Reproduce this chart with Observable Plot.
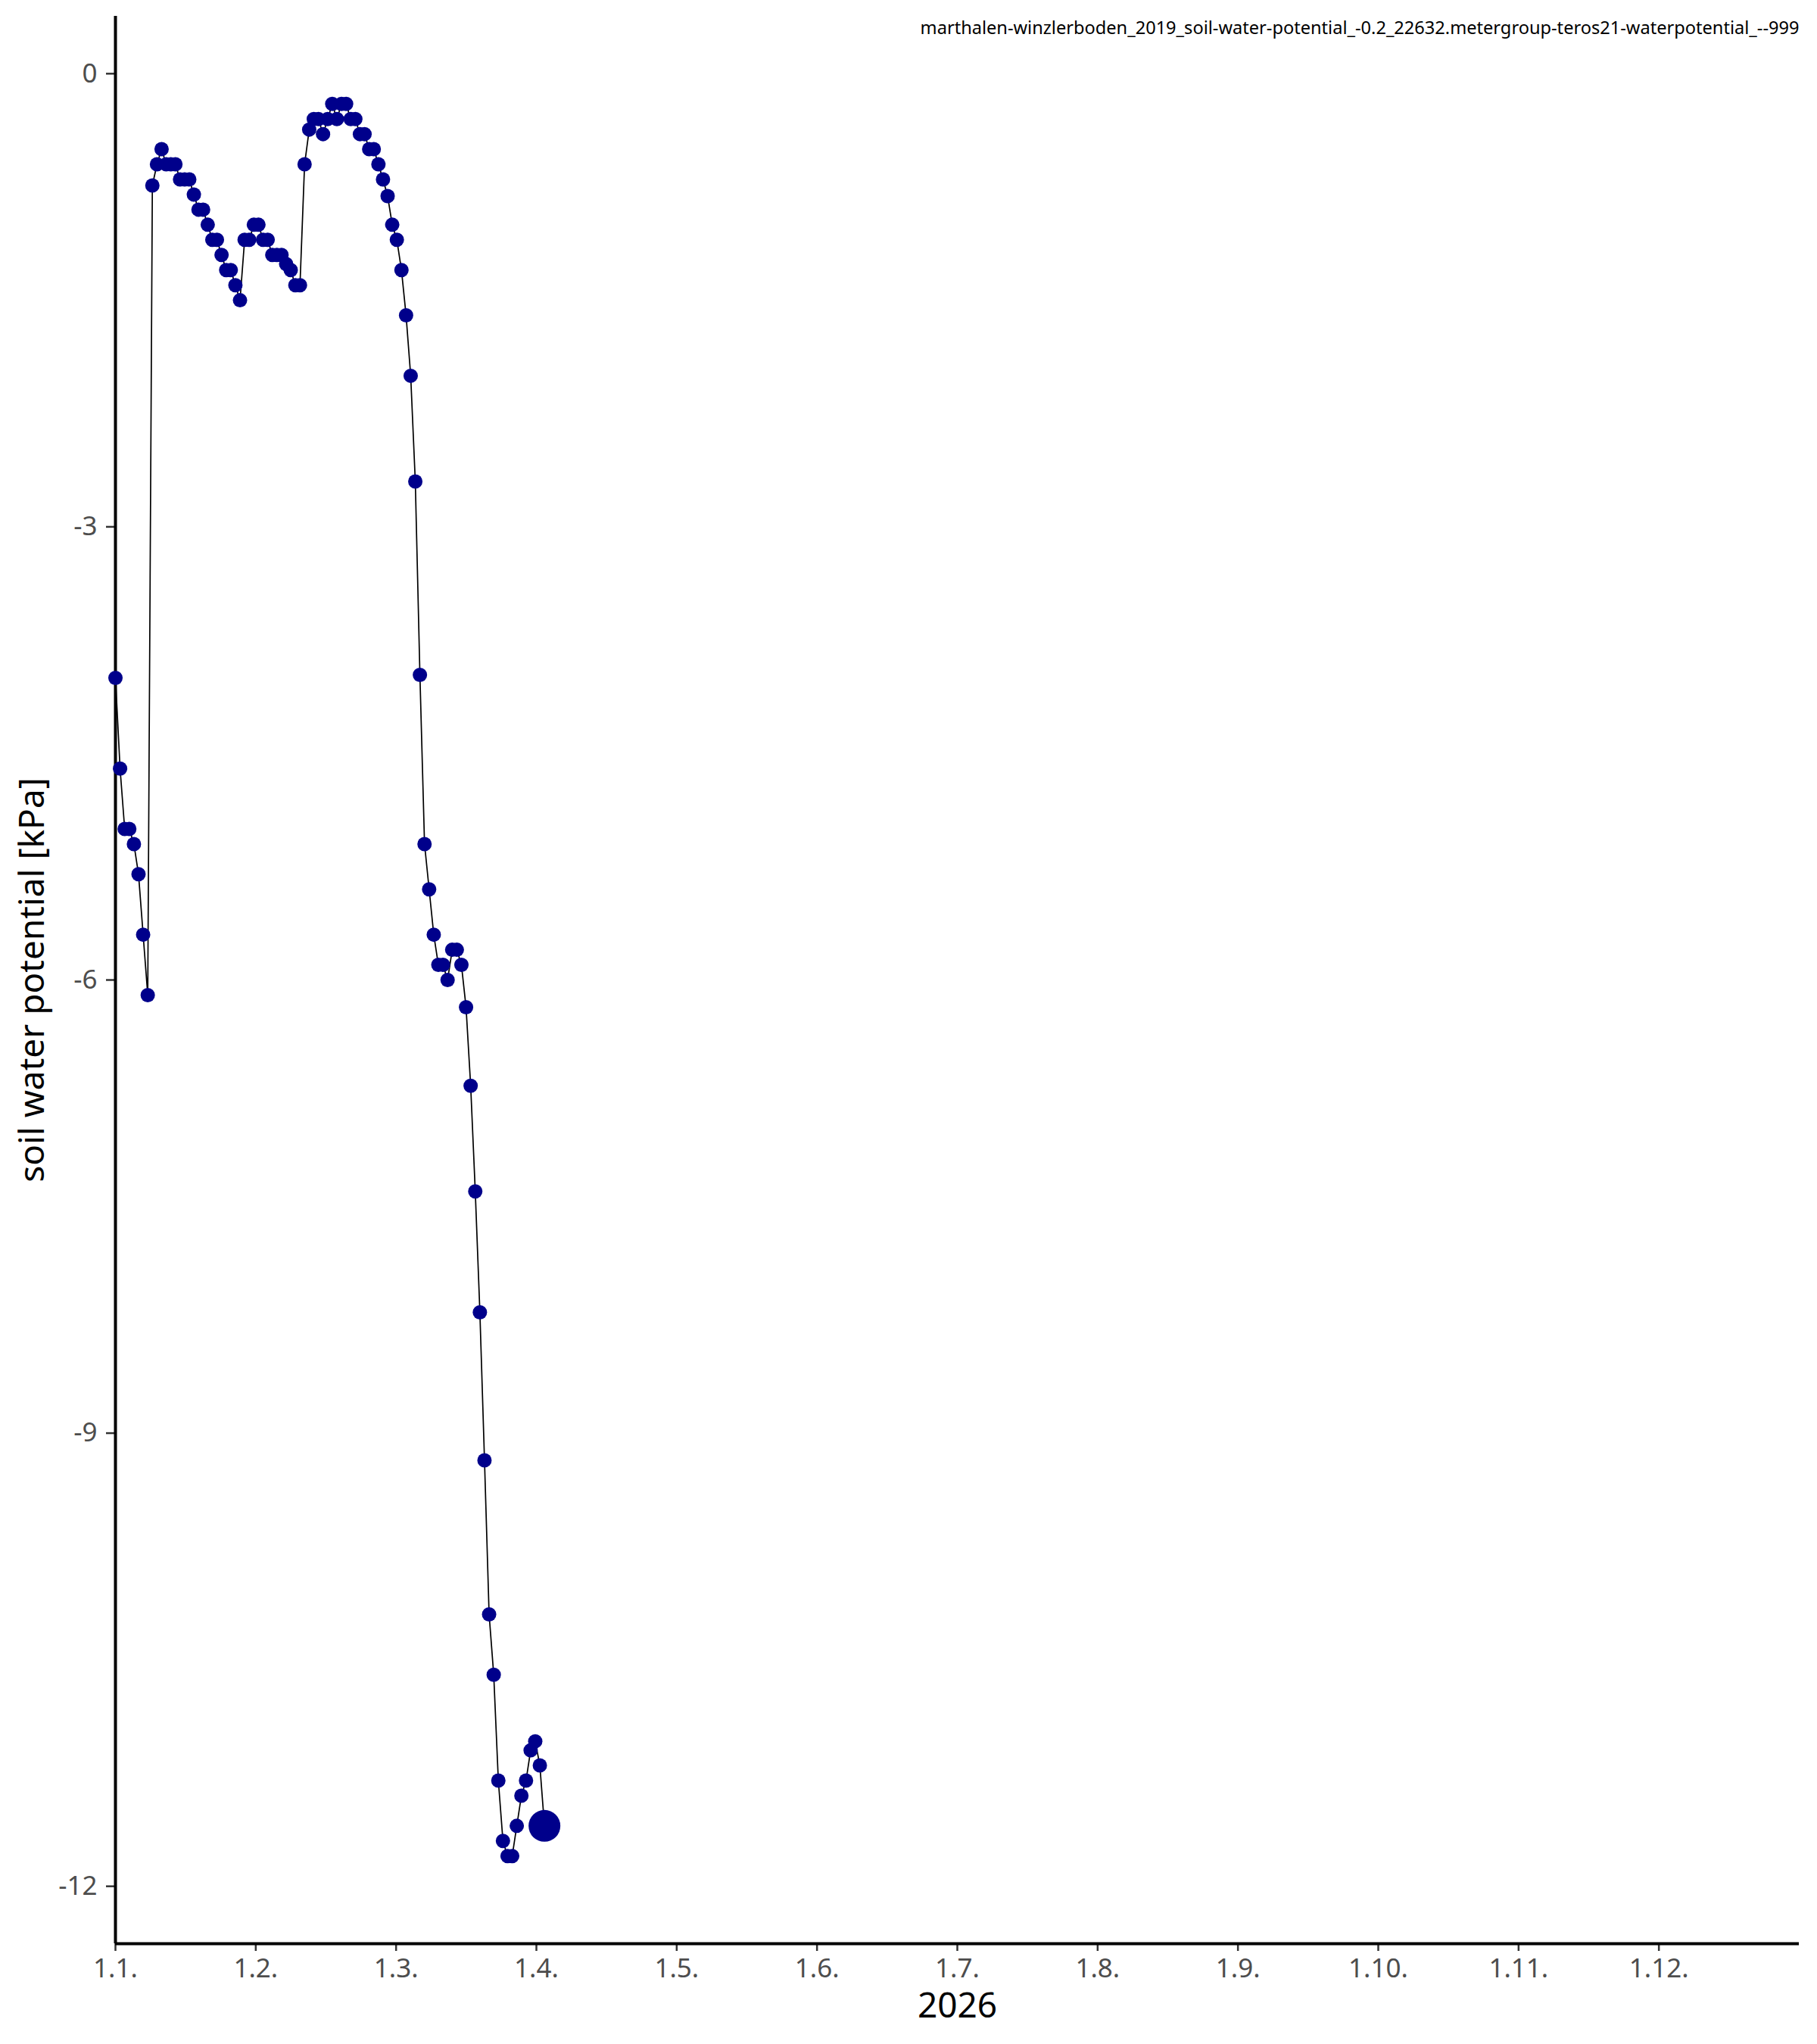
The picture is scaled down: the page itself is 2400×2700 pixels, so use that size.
<!DOCTYPE html>
<html>
<head>
<meta charset="utf-8">
<script src="https://cdn.jsdelivr.net/npm/d3@7"></script>
<script src="https://cdn.jsdelivr.net/npm/@observablehq/plot@0.6"></script>
<style>
  html, body { margin: 0; padding: 0; background: white; }
</style>
</head>
<body>
<div id="chart"></div>
<script>
// Daily soil water potential readings [kPa], starting 1 Jan 2026
const values = [
  -4.0, -4.6, -5.0, -5.0, -5.1, -5.3, -5.7, -6.1,
  -0.74, -0.6, -0.5, -0.6, -0.6, -0.6, -0.7, -0.7, -0.7, -0.8, -0.9, -0.9,
  -1.0, -1.1, -1.1, -1.2, -1.3, -1.3, -1.4, -1.5,
  -1.1, -1.1, -1.0, -1.0, -1.1, -1.1, -1.2, -1.2, -1.2, -1.26, -1.3, -1.4, -1.4,
  -0.6, -0.37, -0.3, -0.3, -0.4, -0.3, -0.2, -0.3, -0.2, -0.2, -0.3, -0.3,
  -0.4, -0.4, -0.5, -0.5, -0.6, -0.7, -0.81, -1.0, -1.1, -1.3, -1.6,
  -2.0, -2.7, -3.98, -5.1, -5.4, -5.7, -5.9, -5.9, -6.0, -5.8, -5.8, -5.9,
  -6.18, -6.7, -7.4, -8.2, -9.18, -10.2, -10.6, -11.3, -11.7, -11.8, -11.8,
  -11.6, -11.4, -11.3, -11.1, -11.04, -11.2, -11.6
];
const dayOfYear = values.map((_, i) => i);

const xTickLabels = ["1.1.", "1.2.", "1.3.", "1.4.", "1.5.", "1.6.", "1.7.", "1.8.", "1.9.", "1.10.", "1.11.", "1.12."];
const yTicks = [0, -3, -6, -9, -12];
const yDomain = [-12.38, 0.38];
const xDomain = [0, 365];
const titleText = "marthalen-winzlerboden_2019_soil-water-potential_-0.2_22632.metergroup-teros21-waterpotential_--999";
const yLabel = "soil water potential [kPa]";
const xLabel = "2026";

const data = values.map((v, i) => ({day: dayOfYear[i], value: v}));
const lastPoint = [data[data.length - 1]];
const xTickPos = xTickLabels.map((_, i) => i * 365 / 12);

const chart = Plot.plot({
  width: 2400,
  height: 2700,
  marginLeft: 152,
  marginRight: 24,
  marginTop: 21,
  marginBottom: 133,
  x: {type: "linear", domain: xDomain},
  y: {domain: yDomain},
  style: {fontFamily: "'Noto Sans', sans-serif", background: "white", color: "black"},
  marks: [
    Plot.axisY({
      ticks: yTicks, tickFormat: d => String(d), tickSize: 12, tickPadding: 12,
      fontSize: 35, fill: "#4d4d4d", stroke: "#333333", strokeWidth: 2.5, label: null
    }),
    Plot.axisX({
      ticks: xTickPos, tickFormat: d => xTickLabels[Math.round(d * 12 / 365)],
      tickSize: 10, tickPadding: 10,
      fontSize: 35, fill: "#4d4d4d", stroke: "#333333", strokeWidth: 2.5, label: null
    }),
    Plot.ruleX([xDomain[0]], {stroke: "black", strokeWidth: 4}),
    Plot.ruleY([yDomain[0]], {stroke: "black", strokeWidth: 4}),
    Plot.line(data, {x: "day", y: "value", stroke: "black", strokeWidth: 1.7}),
    Plot.dot(data, {x: "day", y: "value", r: 9.5, fill: "#00008B", stroke: null}),
    Plot.dot(lastPoint, {x: "day", y: "value", r: 21, fill: "#00008B", stroke: null}),
    Plot.text([yLabel], {frameAnchor: "left", rotate: -90, dx: -109, textAnchor: "middle", lineAnchor: "middle", fontSize: 46, fill: "black"}),
    Plot.text([xLabel], {frameAnchor: "bottom", dy: 83, lineAnchor: "middle", fontSize: 46, fill: "black"}),
    Plot.text([titleText], {frameAnchor: "top-right", dy: 7, textAnchor: "end", fontSize: 23.6, fill: "black"})
  ]
});
document.getElementById("chart").appendChild(chart);
</script>
</body>
</html>
